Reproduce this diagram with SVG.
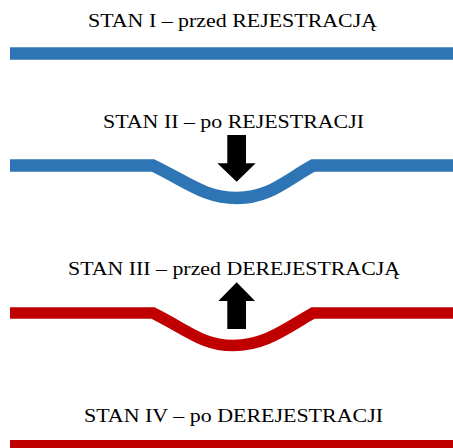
<svg xmlns="http://www.w3.org/2000/svg" width="453" height="448" viewBox="0 0 453 448">
<style>
.t{font-family:"Liberation Serif","Times New Roman",serif;font-size:18.5px;fill:#000}
.blue{fill:none;stroke:#2E75B6;stroke-width:12.5}
.red{fill:none;stroke:#C00000;stroke-width:11.5}
.arr{fill:#000}
</style>
<rect width="453" height="448" fill="#fff"/>
<g id="stan1">
<text class="t" x="88" y="27.3" textLength="289" lengthAdjust="spacingAndGlyphs">STAN I – przed REJESTRACJĄ</text>
<path class="blue" d="M10 53.5H453"/>
</g>
<g id="stan2">
<text class="t" x="103" y="128.3" textLength="261" lengthAdjust="spacingAndGlyphs">STAN II – po REJESTRACJI</text>
<path class="blue" d="M10 165.5H153C189 183 205 198 237 198C269 198 285 181 313 165.5H453"/>
</g>
<g id="stan3">
<text class="t" x="68" y="275" textLength="332" lengthAdjust="spacingAndGlyphs">STAN III – przed DEREJESTRACJĄ</text>
<path class="red" d="M10 313H153C189 331 203 345.5 233 345.5C265 345.5 285 329 313 313H453"/>
</g>
<g id="stan4">
<text class="t" x="84" y="421.7" textLength="299" lengthAdjust="spacingAndGlyphs">STAN IV – po DEREJESTRACJI</text>
<path class="red" d="M10 445H453" style="stroke-width:10"/>
</g>
<g id="connectors">
<path class="arr" d="M227.3 135H246V163.3H255.7L236.7 181.7L217.3 163.3H227.3Z"/>
<path class="arr" d="M227.3 329H246V301H255L236.7 282.3L218.3 301H227.3Z"/>
</g>
</svg>
